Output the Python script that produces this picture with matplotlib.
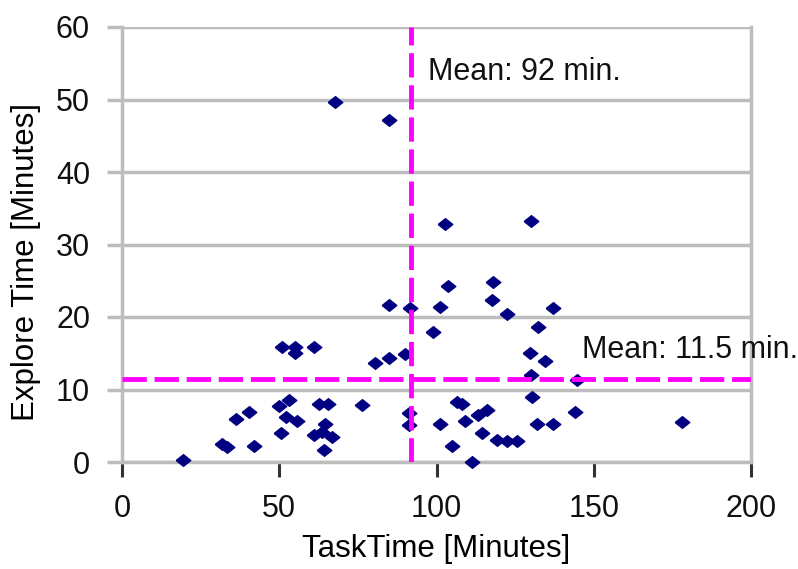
#librerías usadas
import matplotlib
matplotlib.use("Agg")
import matplotlib.pyplot as plt
import numpy as np


# Datos (minutos)

task_time = [19.5, 31.8, 33.4, 36.1, 40.3, 41.9, 50.4, 49.8, 53.0, 52.3,
             55.7, 50.9, 55.1, 55.1, 61.0, 62.5, 65.5, 64.6, 61.0, 63.5,
             66.8, 64.1, 76.3, 80.5, 84.8, 90.0, 91.1, 91.1, 84.8, 91.6,
             101.2, 99.0, 103.8, 118.1, 117.5, 122.3, 137.1, 132.4, 129.7, 134.5,
             130.2, 144.6, 130.3, 144.0, 131.8, 137.1, 101.2, 106.5, 108.0, 109.1,
             113.3, 116.0, 114.4, 104.9, 111.2, 119.1, 122.3, 125.5, 178.1, 67.6,
             84.8, 102.7, 130.0]
explore_time = [0.3, 2.5, 2.1, 6.0, 6.9, 2.2, 4.0, 7.7, 8.5, 6.2,
                5.6, 15.8, 15.9, 15.0, 15.8, 8.0, 8.0, 5.3, 3.7, 4.2,
                3.5, 1.7, 7.9, 13.6, 14.3, 14.9, 6.7, 5.1, 21.7, 21.2,
                21.4, 17.9, 24.3, 24.8, 22.3, 20.4, 21.3, 18.6, 15.0, 13.9,
                12.0, 11.3, 8.9, 6.9, 5.3, 5.2, 5.3, 8.3, 8.0, 5.6,
                6.5, 7.2, 4.0, 2.2, 0.0, 3.0, 2.9, 2.9, 5.5, 49.6,
                47.2, 32.8, 33.3]

mean_task = 92  # media TaskTime
mean_explore = 11.5  # media Explore Time

x_ticks = [0, 50, 100, 150, 200]
y_ticks = [0, 10, 20, 30, 40, 50, 60]


# Crear gráfico

plt.rcParams['font.family'] = ['Liberation Sans', 'DejaVu Sans']
fig = plt.figure(figsize=(7.98, 5.69), dpi=100)
ax = fig.add_axes([122 / 798, 1 - 462 / 569, 629 / 798, 435 / 569])

gris = '#bdbdbd'
ax.set_xlim(0, 200)
ax.set_ylim(0, 60)
ax.set_xticks(x_ticks)
ax.set_yticks(y_ticks)
ax.grid(axis='y', color=gris, linewidth=2.5, zorder=0)

# marcador de rombo ancho (como en Excel)
rombo = [(-1, 0), (0, 0.8), (1, 0), (0, -0.8), (-1, 0)]
ax.plot(task_time, explore_time, linestyle='none', marker=rombo, markersize=10.5,
        color='#000080', clip_on=False, zorder=3)

# Líneas de las medias
ax.axvline(mean_task, color='#ff00ff', linewidth=3.5, dashes=(5, 1.6), zorder=4)
ax.axhline(mean_explore, color='#ff00ff', linewidth=3.5, dashes=(5, 1.6), zorder=4)

ax.text(97.3, 53.8, f"Mean: {mean_task} min.", fontsize=22, va='center', ha='left',
        color='#111111', clip_on=False)
ax.text(146.3, 15.4, f"Mean: {mean_explore} min.", fontsize=22, va='center', ha='left',
        color='#111111', clip_on=False)


# Personalizar ejes

for lado in ['left', 'bottom', 'right']:
    ax.spines[lado].set_color(gris)
    ax.spines[lado].set_linewidth(2.5)
ax.spines['top'].set_visible(False)

ax.tick_params(axis='x', direction='out', length=11, width=2.2, color='#333333',
               pad=12, labelsize=22, labelcolor='#111111')
ax.tick_params(axis='y', direction='out', length=11, width=2.5, color=gris,
               pad=12, labelsize=22, labelcolor='#111111')

ax.set_xlabel('TaskTime [Minutes]', fontsize=22.5, labelpad=7)
ax.set_ylabel('Explore Time [Minutes]', fontsize=22.5)
ax.yaxis.set_label_coords(-0.128, 0.46)


# Guardar la gráfica

fig.savefig('out.png', dpi=100)
